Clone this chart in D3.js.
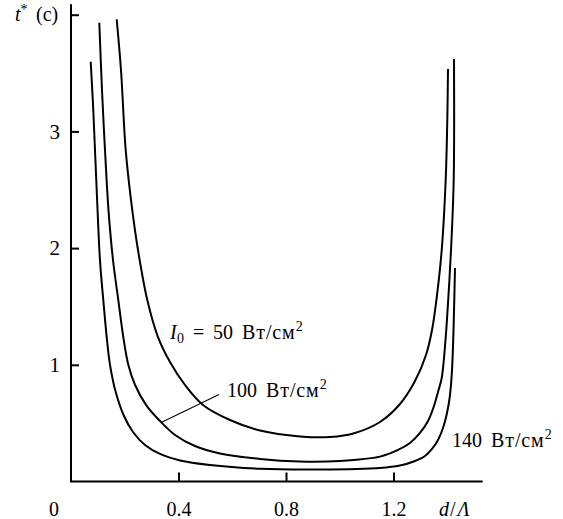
<!DOCTYPE html>
<html lang="ru">
<head>
  <meta charset="UTF-8">
  <title>t* vs d/Λ</title>
  <script src="https://d3js.org/d3.v7.min.js"></script>
  <style>
    body { margin: 0; padding: 0; background: #fff; }
    svg { background: #fff; }
    svg text { font-family: "Times New Roman", "Liberation Serif", "Nimbus Roman", Times, serif !important; fill: #000; }
    .curve { fill: none; stroke: #000; stroke-width: 2px; stroke-linejoin: round; }
  </style>
</head>
<body>
  <script>
    // values: d/Λ and t* (s), one pair of arrays per intensity
    const d50  = [0.170, 0.186, 0.2035, 0.2233, 0.2493, 0.2839, 0.3237, 0.3684, 0.4242, 0.4912, 0.5916, 0.7033, 0.8521, 0.9637, 1.0567, 1.1498, 1.2242, 1.280, 1.3209, 1.3433, 1.3619, 1.3794, 1.3942, 1.4002, 1.4028];
    const t50  = [3.961, 3.526, 2.841, 2.412, 1.984, 1.555, 1.238, 1.024, 0.827, 0.656, 0.527, 0.437, 0.386, 0.381, 0.416, 0.510, 0.664, 0.861, 1.084, 1.298, 1.598, 1.984, 2.584, 3.098, 3.535];

    const d100 = [0.1053, 0.1153, 0.1265, 0.1395, 0.1563, 0.176, 0.1935, 0.2132, 0.2381, 0.2791, 0.3312, 0.387, 0.4614, 0.5544, 0.7033, 0.8521, 1.0009, 1.1498, 1.213, 1.2614, 1.2986, 1.3284, 1.3507, 1.3656, 1.3794, 1.3935, 1.4047, 1.414, 1.424, 1.4251];
    const t100 = [3.931, 3.355, 2.841, 2.326, 1.898, 1.555, 1.255, 1.0, 0.829, 0.657, 0.518, 0.399, 0.304, 0.240, 0.193, 0.171, 0.176, 0.213, 0.266, 0.330, 0.416, 0.518, 0.647, 0.767, 0.887, 1.213, 1.598, 1.984, 2.584, 3.620];

    const d140 = [0.0733, 0.083, 0.0949, 0.1079, 0.1202, 0.1321, 0.1451, 0.1674, 0.1972, 0.2307, 0.2753, 0.3312, 0.4056, 0.5172, 0.7033, 0.9265, 1.1498, 1.2242, 1.280, 1.3172, 1.3433, 1.3656, 1.3842, 1.3991, 1.4102, 1.4177, 1.4233, 1.4288];
    const t140 = [3.597, 3.179, 2.536, 1.893, 1.555, 1.255, 1.0, 0.758, 0.561, 0.424, 0.313, 0.236, 0.180, 0.141, 0.109, 0.103, 0.116, 0.137, 0.176, 0.219, 0.279, 0.356, 0.458, 0.587, 0.741, 0.955, 1.298, 1.830];

    const xTicks = [0.4, 0.8, 1.2];
    const yTicks = [1, 2, 3, 4];

    const width = 563, height = 519;
    const serif = '"Times New Roman", "Liberation Serif", serif';

    const x = d3.scaleLinear().domain([0, 1.2]).range([71, 393.5]);
    const y = d3.scaleLinear().domain([0, 3]).range([481.5, 131.4]);

    const svg = d3.select("body").append("svg")
      .attr("width", width)
      .attr("height", height)
      .style("font-family", serif);

    // axes (ticks point inward)
    const xAxis = svg.append("g")
      .attr("transform", `translate(0,${y(0)})`)
      .call(d3.axisBottom(x).tickValues(xTicks).tickSize(-9).tickSizeOuter(0).tickPadding(20)
        .tickFormat(d3.format(".1f")));
    xAxis.attr("font-family", serif);
    xAxis.select(".domain").remove();
    xAxis.selectAll("line").attr("stroke", "#000").attr("stroke-width", 2);
    xAxis.selectAll("text").attr("font-size", 20).attr("dy", null).attr("y", 34);

    const yAxis = svg.append("g")
      .attr("transform", `translate(${x(0)},0)`)
      .call(d3.axisLeft(y).tickValues(yTicks).tickSize(-8).tickSizeOuter(0).tickPadding(11)
        .tickFormat(d => d === 4 ? "" : d));
    yAxis.attr("font-family", serif);
    yAxis.select(".domain").remove();
    yAxis.selectAll("line").attr("stroke", "#000").attr("stroke-width", 2);
    yAxis.selectAll("text").attr("font-size", 21);

    svg.append("line")
      .attr("x1", x(0) - 1).attr("x2", x(1.532))
      .attr("y1", y(0)).attr("y2", y(0))
      .attr("stroke", "#000").attr("stroke-width", 2);
    svg.append("line")
      .attr("x1", x(0)).attr("x2", x(0))
      .attr("y1", y(0)).attr("y2", y(4.09))
      .attr("stroke", "#000").attr("stroke-width", 2);

    // curves
    const line = d3.line()
      .x(p => x(p[0]))
      .y(p => y(p[1]))
      .curve(d3.curveCatmullRom.alpha(0.5));

    [[d50, t50], [d100, t100], [d140, t140]].forEach(([ds, ts]) => {
      svg.append("path")
        .attr("class", "curve")
        .attr("d", line(ds.map((d, i) => [d, ts[i]])));
    });

    // axis titles
    svg.append("text")
      .attr("x", 54).attr("y", y(0) + 34)
      .attr("text-anchor", "middle").attr("font-size", 20)
      .text("0");

    const xl = svg.append("text")
      .attr("x", 439).attr("y", y(0) + 34)
      .attr("font-size", 20);
    xl.append("tspan").attr("font-style", "italic").text("d");
    xl.append("tspan").attr("dx", 1).text("/");
    xl.append("tspan").attr("dx", 2).attr("font-style", "italic").text("Λ");

    const yl = svg.append("text")
      .attr("x", 15).attr("y", 21)
      .attr("font-size", 20);
    yl.append("tspan").attr("font-style", "italic").text("t");
    yl.append("tspan").attr("font-size", 14).attr("dy", -7).text("*");
    yl.append("tspan").attr("dy", 7).attr("x", 36).text("(c)");

    // curve labels
    const unit = (sel, xs, y0) => {
      sel.append("tspan").attr("x", xs).attr("y", y0)
        .attr("letter-spacing", 0.9).text("Вт/см");
      sel.append("tspan").attr("font-size", 14).attr("dy", -8).text("2");
    };

    const l50 = svg.append("text").attr("font-size", 20);
    l50.append("tspan").attr("x", 170).attr("y", 339).attr("font-style", "italic").text("I");
    l50.append("tspan").attr("x", 177).attr("y", 343).attr("font-size", 14).text("0");
    l50.append("tspan").attr("x", 193).attr("y", 339).text("=");
    l50.append("tspan").attr("x", 213).attr("y", 339).text("50");
    unit(l50, 242, 339);

    const l100 = svg.append("text").attr("font-size", 20);
    l100.append("tspan").attr("x", 227).attr("y", 397).text("100");
    unit(l100, 266, 397);

    svg.append("line")
      .attr("x1", 219).attr("y1", 394.5)
      .attr("x2", x(0.3355)).attr("y2", y(0.505))
      .attr("stroke", "#000").attr("stroke-width", 1.1);

    const l140 = svg.append("text").attr("font-size", 20);
    l140.append("tspan").attr("x", 452).attr("y", 447).text("140");
    unit(l140, 491, 447);
  </script>
</body>
</html>
